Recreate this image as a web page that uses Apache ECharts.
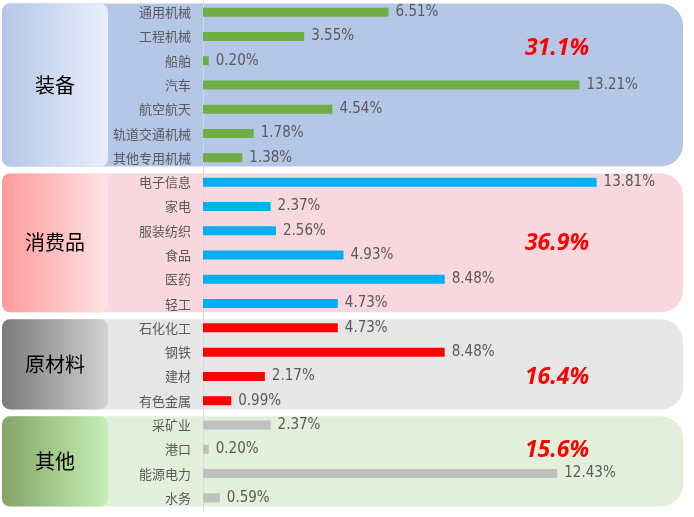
<!DOCTYPE html>
<html>
<head>
<meta charset="utf-8">
<script src="https://cdn.jsdelivr.net/npm/echarts@6/dist/echarts.min.js"></script>
<style>
  html, body { margin: 0; padding: 0; background: #fff; }
  #main { width: 694px; height: 517px; }
</style>
</head>
<body>
<div id="main"></div>
<script>
// industries, top to bottom
var categories = ['通用机械', '工程机械', '船舶', '汽车', '航空航天', '轨道交通机械', '其他专用机械',
  '电子信息', '家电', '服装纺织', '食品', '医药', '轻工',
  '石化化工', '钢铁', '建材', '有色金属',
  '采矿业', '港口', '能源电力', '水务'];
var values = [6.51, 3.55, 0.20, 13.21, 4.54, 1.78, 1.38,
  13.81, 2.37, 2.56, 4.93, 8.48, 4.73,
  4.73, 8.48, 2.17, 0.99,
  2.37, 0.20, 12.43, 0.59];

var groupNames = ['装备', '消费品', '原材料', '其他'];
var groupSizes = [7, 6, 4, 4];
var groupShares = ['31.1%', '36.9%', '16.4%', '15.6%'];

var barColors = ['#70ad47', '#00b0f0', '#ff0000', '#bfbfbf'];
var bgColors = ['#b4c7e7', '#f8d7df', '#e6e6e6', '#e2efda'];
var tagColors = [['#b4c7e7', '#e9eefb'], ['#ff9a9a', '#fde3e3'], ['#7a7a7a', '#d2d2d2'], ['#83a566', '#c6efb6']];
// row (in category units) where the share text sits
var shareRows = [1.5, 9.5, 15, 18];

var groupOf = [];
groupSizes.forEach(function (n, g) {
  for (var i = 0; i < n; i++) groupOf.push(g);
});

var chart = echarts.init(document.getElementById('main'));

var gridTop = -1, gridH = 511;

chart.setOption({
  backgroundColor: '#fff',
  animation: false,
  grid: { left: 203, top: gridTop, width: 399, height: gridH },
  xAxis: {
    type: 'value', min: 0, max: 14,
    show: false
  },
  yAxis: {
    type: 'category',
    data: categories,
    inverse: true,
    axisTick: { show: false },
    axisLine: { show: true, lineStyle: { color: '#d9d9d9', width: 1 } },
    axisLabel: {
      margin: 12,
      fontSize: 13,
      color: '#595959',
      fontFamily: 'Noto Sans CJK SC'
    }
  },
  series: [{
    type: 'bar',
    barWidth: 9,
    data: values.map(function (v, i) {
      return { value: v, itemStyle: { color: barColors[groupOf[i]] } };
    }),
    label: {
      show: true,
      position: 'right',
      distance: 7,
      color: '#595959',
      fontSize: 15,
      fontFamily: "'Liberation Sans Narrow', 'DejaVu Sans Condensed', Roboto, sans-serif",
      formatter: function (p) { return p.value.toFixed(2) + '%'; }
    }
  }]
});

// group backgrounds, tags and share labels, placed from the category axis
var band = gridH / categories.length;
var graphics = [];
var start = 0;
groupSizes.forEach(function (n, g) {
  var yTop = chart.convertToPixel({ yAxisIndex: 0 }, categories[start]) - band / 2 + 3.5;
  var yBot = chart.convertToPixel({ yAxisIndex: 0 }, categories[start + n - 1]) + band / 2 - 3.5;
  var h = yBot - yTop;
  graphics.push({
    type: 'rect', z: -10,
    shape: { x: 2, y: yTop, width: 681, height: h, r: [8, 22, 22, 8] },
    style: { fill: bgColors[g] }
  });
  graphics.push({
    type: 'rect', z: -9,
    shape: { x: 2, y: yTop, width: 106, height: h, r: 8 },
    style: {
      fill: new echarts.graphic.LinearGradient(0, 0, 1, 0, [
        { offset: 0, color: tagColors[g][0] },
        { offset: 1, color: tagColors[g][1] }
      ])
    }
  });
  graphics.push({
    type: 'text', z: 10,
    x: 55, y: yTop + h / 2,
    style: {
      text: groupNames[g], fill: '#000', fontSize: 20,
      fontFamily: 'Noto Sans CJK SC',
      align: 'center', verticalAlign: 'middle'
    }
  });
  var ys = chart.convertToPixel({ yAxisIndex: 0 }, categories[0]) + shareRows[g] * band;
  graphics.push({
    type: 'text', z: 10,
    x: 557, y: ys,
    style: {
      text: groupShares[g], fill: '#ff0000', fontSize: 23,
      fontWeight: 'bold', fontStyle: 'italic',
      fontFamily: 'Open Sans',
      align: 'center', verticalAlign: 'middle'
    }
  });
  start += n;
});

chart.setOption({ graphic: graphics });
</script>
</body>
</html>
